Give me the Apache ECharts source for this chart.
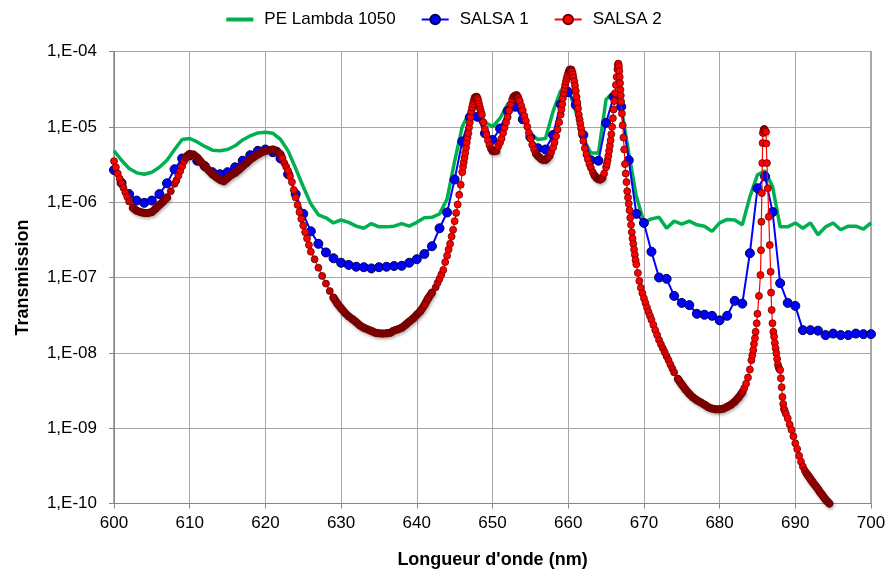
<!DOCTYPE html>
<html>
<head>
<meta charset="utf-8">
<script src="https://cdn.jsdelivr.net/npm/echarts@6/dist/echarts.min.js"></script>
<style>
html,body{margin:0;padding:0;background:#fff;}
#c{width:888px;height:572px;}
</style>
</head>
<body>
<div id="c"></div>
<script>
// ---- data ----
const wavelength = [600,601,602,603,604,605,606,607,608,609,610,611,612,613,614,615,616,617,618,619,620,621,622,623,624,625,626,627,628,629,630,631,632,633,634,635,636,637,638,639,640,641,642,643,644,645,646,647,648,649,650,651,652,653,654,655,656,657,658,659,660,661,662,663,664,665,666,667,668,669,670,671,672,673,674,675,676,677,678,679,680,681,682,683,684,685,686,687,688,689,690,691,692,693,694,695,696,697,698,699,700];

const peLambda = [4.8e-6,3.6e-6,2.8e-6,2.45e-6,2.35e-6,2.5e-6,2.9e-6,3.6e-6,5.0e-6,6.8e-6,7.0e-6,6.3e-6,5.5e-6,4.9e-6,4.8e-6,5.0e-6,5.6e-6,6.7e-6,7.6e-6,8.3e-6,8.5e-6,8.2e-6,6.8e-6,4.8e-6,2.8e-6,1.6e-6,9.5e-7,6.8e-7,6.2e-7,5.3e-7,5.8e-7,5.4e-7,4.8e-7,4.5e-7,5.2e-7,4.7e-7,4.7e-7,4.8e-7,5.2e-7,4.8e-7,5.4e-7,6.2e-7,6.3e-7,7.0e-7,1.1e-6,3.5e-6,1.0e-5,1.6e-5,1.8e-5,1.15e-5,1.0e-5,1.3e-5,2.0e-5,2.3e-5,1.4e-5,8.0e-6,6.8e-6,7.0e-6,1.6e-5,3.0e-5,3.3e-5,1.6e-5,7.0e-6,4.5e-6,4.5e-6,2.3e-5,2.9e-5,1.8e-5,4.5e-6,1.2e-6,5.4e-7,6.0e-7,6.3e-7,4.5e-7,5.6e-7,5.1e-7,5.6e-7,5.0e-7,4.8e-7,4.1e-7,5.3e-7,5.9e-7,5.8e-7,5.0e-7,1.18e-6,2.3e-6,2.6e-6,1.6e-6,4.7e-7,4.7e-7,5.3e-7,4.5e-7,5.3e-7,3.7e-7,4.7e-7,5.3e-7,4.3e-7,4.8e-7,4.8e-7,4.4e-7,5.3e-7];

const salsa1 = [2.67e-6,1.8e-6,1.28e-6,1.05e-6,9.8e-7,1.05e-6,1.28e-6,1.78e-6,2.73e-6,3.8e-6,4.2e-6,3.55e-6,3.0e-6,2.5e-6,2.35e-6,2.5e-6,2.9e-6,3.55e-6,4.2e-6,4.8e-6,5.0e-6,4.6e-6,3.8e-6,2.35e-6,1.28e-6,7.0e-7,4.1e-7,2.8e-7,2.15e-7,1.8e-7,1.57e-7,1.47e-7,1.39e-7,1.37e-7,1.32e-7,1.37e-7,1.39e-7,1.42e-7,1.43e-7,1.57e-7,1.75e-7,2.05e-7,2.6e-7,4.5e-7,7.3e-7,2.0e-6,6.4e-6,1.34e-5,1.36e-5,8.2e-6,6.7e-6,9.5e-6,1.62e-5,1.85e-5,1.26e-5,7.3e-6,5.2e-6,5.0e-6,7.8e-6,2.0e-5,2.9e-5,1.95e-5,7.8e-6,3.6e-6,3.55e-6,1.13e-5,2.5e-5,1.85e-5,3.6e-6,7.0e-7,5.3e-7,2.2e-7,1.0e-7,9.6e-8,5.7e-8,4.6e-8,4.3e-8,3.3e-8,3.2e-8,3.1e-8,2.7e-8,3.1e-8,4.9e-8,4.5e-8,2.1e-7,1.53e-6,2.2e-6,7.4e-7,8.4e-8,4.6e-8,4.2e-8,2.0e-8,2.0e-8,1.97e-8,1.72e-8,1.8e-8,1.72e-8,1.72e-8,1.8e-8,1.77e-8,1.77e-8];

const salsa2Wavelength = [600,600.25,600.5,600.75,601,601.25,601.5,601.75,602,602.5,603,603.5,604,604.5,605,605.5,606,606.5,607,607.5,608,608.25,608.5,608.75,609,609.25,609.5,609.75,610,610.5,611,611.5,612,612.5,613,613.5,614,614.5,615,615.5,616,616.5,617,617.5,618,618.5,619,619.5,620,620.5,621,621.5,622,622.25,622.5,622.75,623,623.25,623.5,623.75,624,624.25,624.5,624.75,625,625.25,625.5,625.75,626,626.5,627,627.5,628,628.5,629,629.5,630,630.5,631,631.5,632,632.5,633,633.5,634,634.5,635,635.5,636,636.5,637,637.5,638,638.5,639,639.5,640,640.5,641,641.5,642,642.5,642.75,643,643.25,643.5,643.75,644,644.2,644.4,644.6,644.8,645,645.2,645.4,645.6,645.8,646,646.1,646.2,646.3,646.4,646.5,646.6,646.7,646.8,646.9,647,647.1,647.2,647.3,647.4,647.5,647.6,647.7,647.8,647.9,648,648.1,648.2,648.3,648.4,648.5,648.6,648.8,649,649.2,649.4,649.6,649.8,650,650.25,650.5,650.75,651,651.2,651.4,651.6,651.8,652,652.2,652.4,652.6,652.8,653,653.2,653.4,653.6,653.8,654,654.2,654.4,654.6,654.8,655,655.25,655.5,655.75,656,656.25,656.5,656.75,657,657.25,657.5,657.75,658,658.2,658.4,658.6,658.8,659,659.1,659.2,659.3,659.4,659.5,659.6,659.7,659.8,659.9,660,660.1,660.2,660.3,660.4,660.5,660.6,660.7,660.8,660.9,661,661.1,661.2,661.3,661.4,661.5,661.6,661.7,661.8,662,662.2,662.4,662.6,662.8,663,663.25,663.5,663.75,664,664.25,664.5,664.75,665,665.1,665.2,665.3,665.4,665.5,665.6,665.7,665.8,665.9,666,666.1,666.2,666.3,666.4,666.5,666.55,666.6,666.65,666.7,666.75,666.8,666.85,666.9,666.95,667,667.1,667.2,667.3,667.4,667.5,667.6,667.7,667.8,667.9,668,668.1,668.2,668.3,668.4,668.5,668.6,668.7,668.8,668.9,669,669.2,669.4,669.6,669.8,670,670.2,670.4,670.6,670.8,671,671.25,671.5,671.75,672,672.25,672.5,672.75,673,673.25,673.5,673.75,674,674.5,675,675.5,676,676.5,677,677.5,678,678.5,679,679.5,680,680.5,681,681.5,682,682.5,683,683.25,683.5,683.75,684,684.2,684.32,684.45,684.54,684.67,684.76,684.9,685,685.2,685.4,685.47,685.52,685.58,685.64,685.68,685.72,685.8,685.9,686,686.12,686.17,686.25,686.37,686.49,686.62,686.74,686.8,686.88,686.98,687.1,687.2,687.3,687.4,687.5,687.6,687.7,687.8,687.9,688,688.1,688.2,688.3,688.4,688.5,688.6,688.75,689,689.25,689.5,689.75,690,690.25,690.5,690.75,691,691.25,691.5,691.75,692,692.25,692.5,692.75,693,693.25,693.5,693.75,694,694.25,694.5];

const salsa2 = [3.5e-6,2.9e-6,2.4e-6,2.05e-6,1.78e-6,1.55e-6,1.35e-6,1.18e-6,1.02e-6,8.4e-7,7.7e-7,7.4e-7,7.2e-7,7.2e-7,7.4e-7,8.2e-7,9.2e-7,1.02e-6,1.15e-6,1.4e-6,1.75e-6,1.95e-6,2.25e-6,2.6e-6,3.0e-6,3.5e-6,3.9e-6,4.2e-6,4.4e-6,4.3e-6,3.9e-6,3.4e-6,3.0e-6,2.65e-6,2.35e-6,2.15e-6,1.98e-6,1.9e-6,2.1e-6,2.3e-6,2.45e-6,2.7e-6,3.0e-6,3.3e-6,3.7e-6,4.0e-6,4.3e-6,4.6e-6,4.8e-6,4.9e-6,5.0e-6,4.8e-6,4.3e-6,3.8e-6,3.3e-6,2.95e-6,2.6e-6,2.2e-6,1.85e-6,1.45e-6,1.15e-6,9.2e-7,7.4e-7,6.0e-7,4.9e-7,4.0e-7,3.3e-7,2.7e-7,2.2e-7,1.75e-7,1.35e-7,1.05e-7,8.3e-8,6.6e-8,5.4e-8,4.5e-8,3.9e-8,3.4e-8,3.05e-8,2.8e-8,2.55e-8,2.3e-8,2.15e-8,2.05e-8,1.95e-8,1.85e-8,1.82e-8,1.8e-8,1.82e-8,1.85e-8,1.98e-8,2.05e-8,2.15e-8,2.35e-8,2.6e-8,2.85e-8,3.2e-8,3.6e-8,4.3e-8,5.3e-8,6.3e-8,7.4e-8,8.5e-8,9.6e-8,1.1e-7,1.26e-7,1.6e-7,1.95e-7,2.35e-7,2.8e-7,3.5e-7,4.3e-7,5.6e-7,7.2e-7,9.3e-7,1.25e-6,1.7e-6,2.5e-6,2.95e-6,3.4e-6,3.9e-6,4.5e-6,5.3e-6,6.2e-6,7.2e-6,8.2e-6,9.8e-6,1.15e-5,1.35e-5,1.6e-5,1.8e-5,2.0e-5,2.2e-5,2.35e-5,2.45e-5,2.5e-5,2.5e-5,2.4e-5,2.25e-5,2.05e-5,1.85e-5,1.7e-5,1.55e-5,1.45e-5,1.15e-5,9.3e-6,7.8e-6,6.6e-6,5.7e-6,5.1e-6,4.8e-6,4.7e-6,4.8e-6,5.5e-6,6.2e-6,7.0e-6,8.3e-6,9.8e-6,1.15e-5,1.35e-5,1.65e-5,2.0e-5,2.3e-5,2.5e-5,2.62e-5,2.62e-5,2.45e-5,2.2e-5,1.9e-5,1.65e-5,1.4e-5,1.2e-5,1.0e-5,8.3e-6,7.0e-6,5.8e-6,5.0e-6,4.4e-6,4.1e-6,3.9e-6,3.7e-6,3.6e-6,3.65e-6,3.8e-6,4.1e-6,4.6e-6,5.3e-6,6.2e-6,7.5e-6,9.2e-6,1.15e-5,1.45e-5,1.7e-5,2.0e-5,2.4e-5,2.8e-5,3.2e-5,3.6e-5,4.0e-5,4.4e-5,4.8e-5,5.2e-5,5.5e-5,5.7e-5,5.8e-5,5.7e-5,5.4e-5,5.0e-5,4.5e-5,4.0e-5,3.5e-5,3.0e-5,2.5e-5,2.1e-5,1.75e-5,1.45e-5,1.25e-5,1.1e-5,9.5e-6,8.3e-6,6.5e-6,5.2e-6,4.3e-6,3.7e-6,3.2e-6,2.85e-6,2.5e-6,2.25e-6,2.1e-6,2.0e-6,2.0e-6,2.1e-6,2.4e-6,2.9e-6,3.2e-6,3.6e-6,4.1e-6,4.8e-6,5.6e-6,6.6e-6,8.0e-6,1.0e-5,1.3e-5,1.7e-5,2.2e-5,2.8e-5,3.6e-5,4.6e-5,5.8e-5,6.5e-5,6.9e-5,6.8e-5,6.3e-5,5.5e-5,4.6e-5,3.8e-5,3.1e-5,2.6e-5,2.15e-5,1.5e-5,1.05e-5,7.2e-6,5.0e-6,3.2e-6,2.4e-6,1.85e-6,1.4e-6,1.15e-6,9.5e-7,7.8e-7,6.2e-7,5.0e-7,4.0e-7,3.3e-7,2.8e-7,2.35e-7,2.0e-7,1.7e-7,1.5e-7,1.15e-7,9.0e-8,7.3e-8,6.2e-8,5.3e-8,4.6e-8,4.0e-8,3.5e-8,3.1e-8,2.75e-8,2.35e-8,2.0e-8,1.72e-8,1.48e-8,1.3e-8,1.15e-8,1.02e-8,9.0e-9,8.0e-9,7.0e-9,6.2e-9,5.5e-9,4.5e-9,3.8e-9,3.25e-9,2.85e-9,2.55e-9,2.35e-9,2.2e-9,2.05e-9,1.9e-9,1.82e-9,1.78e-9,1.78e-9,1.82e-9,1.92e-9,2.05e-9,2.25e-9,2.55e-9,3.0e-9,3.4e-9,3.9e-9,4.7e-9,6.0e-9,8.0e-9,9.3e-9,1.09e-8,1.31e-8,1.56e-8,1.9e-8,2.47e-8,3.3e-8,5.7e-8,1.08e-7,2.3e-7,5.5e-7,1.32e-6,3.3e-6,6.1e-6,8.3e-6,9.0e-6,9.3e-6,8.8e-6,8.6e-6,6.0e-6,3.3e-6,1.53e-6,6.4e-7,2.7e-7,1.19e-7,6.3e-8,3.7e-8,2.47e-8,1.9e-8,1.64e-8,1.35e-8,1.15e-8,9.9e-9,8.3e-9,7.0e-9,6.4e-9,6.1e-9,5.9e-9,4.6e-9,3.5e-9,2.6e-9,2.1e-9,1.8e-9,1.7e-9,1.55e-9,1.35e-9,1.12e-9,9.5e-10,7.8e-10,6.3e-10,5.3e-10,4.3e-10,3.6e-10,3.1e-10,2.75e-10,2.5e-10,2.3e-10,2.12e-10,1.95e-10,1.8e-10,1.68e-10,1.55e-10,1.42e-10,1.32e-10,1.22e-10,1.13e-10,1.06e-10,1.0e-10];

const legendNames = ['PE Lambda 1050', 'SALSA 1', 'SALSA 2'];
const xTitle = "Longueur d'onde (nm)";
const yTitle = 'Transmission';

// ---- chart ----
const FONT = 'Liberation Sans';
const DARK = '#780000';
const chart = echarts.init(document.getElementById('c'), null, {renderer: 'canvas'});
const pair = (xs, ys) => ys.map((v, i) => [xs[i], v]);
const s2pairs = pair(salsa2Wavelength, salsa2);

const option = {
  animation: false,
  backgroundColor: '#fff',
  textStyle: {fontFamily: FONT},
  legend: {
    top: 6, left: 'center', itemGap: 25, itemWidth: 27, itemHeight: 12,
    textStyle: {fontFamily: FONT, fontSize: 17, color: '#000', padding: [0, 0, 0, 6]},
    data: [
      {name: legendNames[0], icon: 'path://M0,0 L27,0 L27,4 L0,4 Z'},
      {name: legendNames[1]},
      {name: legendNames[2]}
    ]
  },
  grid: {left: 114, right: 17, top: 51.5, bottom: 68.5, containLabel: false, outerBoundsMode: 'none',
    show: true, borderColor: '#595959', borderWidth: 1},
  xAxis: {
    type: 'value', min: 600, max: 700, interval: 10,
    name: xTitle, nameLocation: 'middle', nameGap: 48,
    nameTextStyle: {fontFamily: FONT, fontSize: 18, fontWeight: 'bold', color: '#000'},
    axisLine: {show: true, lineStyle: {color: '#868686', width: 1}},
    axisTick: {show: true, length: 5, lineStyle: {color: '#868686'}},
    axisLabel: {fontFamily: FONT, fontSize: 17, color: '#000', margin: 11},
    splitLine: {show: true, lineStyle: {color: '#a6a6a6', width: 1}}
  },
  yAxis: {
    type: 'log', logBase: 10, min: 1e-10, max: 1e-4,
    name: yTitle, nameLocation: 'middle', nameGap: 82, nameRotate: 90,
    nameTextStyle: {fontFamily: FONT, fontSize: 18, fontWeight: 'bold', color: '#000'},
    axisLine: {show: true, lineStyle: {color: '#868686', width: 1}},
    axisTick: {show: true, length: 5, lineStyle: {color: '#868686'}},
    axisLabel: {
      fontFamily: FONT, fontSize: 17, color: '#000', margin: 17,
      formatter: v => { const e = Math.round(Math.log10(v)); return '1,E' + (e < 0 ? '-' : '+') + String(Math.abs(e)).padStart(2, '0'); }
    },
    splitLine: {show: true, lineStyle: {color: '#a6a6a6', width: 1}}
  },
  series: [
    {
      name: legendNames[0], type: 'line', data: pair(wavelength, peLambda),
      symbol: 'none', showSymbol: false,
      lineStyle: {color: '#00b050', width: 3.5}, itemStyle: {color: '#00b050'}, z: 2
    },
    {
      name: legendNames[1], type: 'line', data: pair(wavelength, salsa1),
      symbol: 'circle', symbolSize: 9, showSymbol: true,
      lineStyle: {color: '#0000ff', width: 2},
      itemStyle: {color: '#0000ff', borderColor: '#00004a', borderWidth: 1}, z: 3
    },
    {
      // thick dark body of the densely overlapping SALSA 2 markers (filled in after layout)
      name: 'SALSA 2 body', type: 'line', data: [], clip: false, connectNulls: false,
      symbol: 'none', showSymbol: false, silent: true,
      lineStyle: {color: DARK, width: 8, cap: 'round', join: 'round',
        shadowBlur: 3, shadowColor: 'rgba(0,0,0,0.3)', shadowOffsetX: 1, shadowOffsetY: 2},
      z: 4
    },
    {
      name: legendNames[2], type: 'line', data: s2pairs, clip: false,
      symbol: 'circle', symbolSize: 7, showSymbol: true,
      lineStyle: {color: '#ff0000', width: 1.2},
      itemStyle: {color: '#ff0000', borderColor: '#6b0000', borderWidth: 0.8},
      z: 5
    }
  ]
};
chart.setOption(option);

// Markers that overlap densely render as a dark tube in the original; sparse ones stay red.
function mix(a, b, t) {
  const pa = [parseInt(a.slice(1,3),16), parseInt(a.slice(3,5),16), parseInt(a.slice(5,7),16)];
  const pb = [parseInt(b.slice(1,3),16), parseInt(b.slice(3,5),16), parseInt(b.slice(5,7),16)];
  return 'rgb(' + pa.map((v, i) => Math.round(v + (pb[i] - v) * t)).join(',') + ')';
}
const px = s2pairs.map(p => chart.convertToPixel({gridIndex: 0}, p));
const n = px.length;
const tv = s2pairs.map((p, i) => {
  const a = px[Math.max(0, i - 1)], b = px[Math.min(n - 1, i + 1)];
  const dx = Math.max(Math.abs(b[0] - a[0]), 0.01), dy = Math.abs(b[1] - a[1]);
  return Math.min(1, Math.max(0, (dy / dx - 1.0) / 1.6));
});
const styled = s2pairs.map((p, i) => ({
  value: p,
  itemStyle: {color: mix(DARK, '#ff0000', tv[i]), borderColor: tv[i] < 0.3 ? DARK : '#6b0000'}
}));
const body = s2pairs.map((p, i) => (tv[i] < 0.45 ? p : [p[0], null]));
chart.setOption({series: [{}, {}, {data: body}, {data: styled}]});
</script>
</body>
</html>
